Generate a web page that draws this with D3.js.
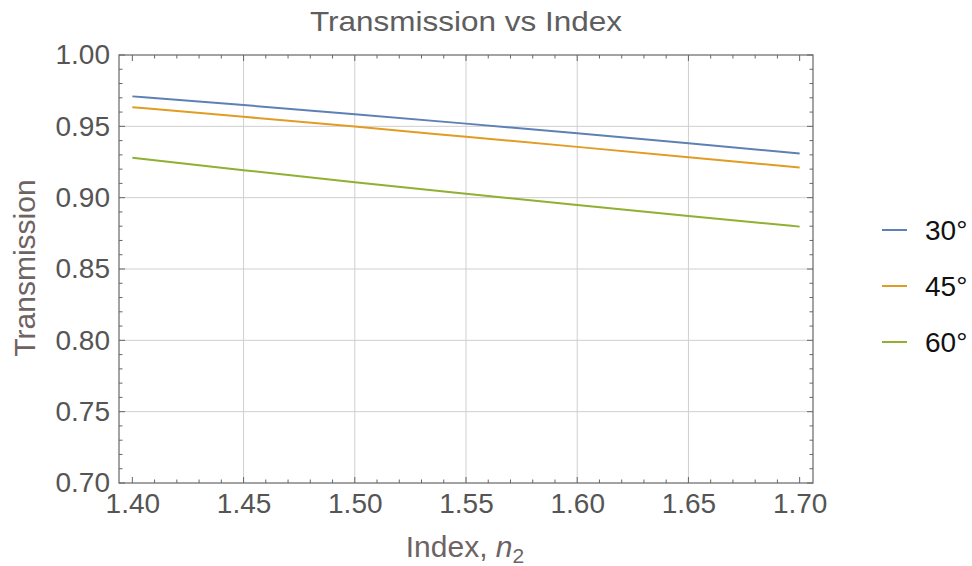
<!DOCTYPE html>
<html>
<head>
<meta charset="utf-8">
<script src="https://cdn.jsdelivr.net/npm/d3@7"></script>
<style>
  html, body { margin: 0; padding: 0; background: #fff; }
  svg { display: block; font-family: "Liberation Sans", Arial, sans-serif; }
</style>
</head>
<body>
<svg id="chart" width="972" height="566"></svg>
<script>
// Refractive index of the second medium
const indexValues = [1.40, 1.45, 1.50, 1.55, 1.60, 1.65, 1.70];

// Transmission at each incidence angle
const trans30 = [0.9710, 0.9649, 0.9585, 0.9519, 0.9451, 0.9381, 0.9310];
const trans45 = [0.9634, 0.9567, 0.9498, 0.9427, 0.9356, 0.9284, 0.9211];
const trans60 = [0.9280, 0.9193, 0.9108, 0.9027, 0.8948, 0.8871, 0.8797];

const seriesNames = ["30°", "45°", "60°"];
const seriesColors = ["#5e81b5", "#e19c24", "#8fb032"];

const xTicks = [1.40, 1.45, 1.50, 1.55, 1.60, 1.65, 1.70];
const yTicks = [0.70, 0.75, 0.80, 0.85, 0.90, 0.95, 1.00];

const series = [trans30, trans45, trans60].map((vals, i) => ({
  name: seriesNames[i],
  color: seriesColors[i],
  points: vals.map((v, j) => ({ x: indexValues[j], y: v }))
}));

const svg = d3.select("#chart");
const plot = { left: 119, right: 813, top: 55, bottom: 483 };

const x = d3.scaleLinear().domain([1.394, 1.706]).range([plot.left, plot.right]);
const y = d3.scaleLinear().domain([0.70, 1.00]).range([plot.bottom, plot.top]);

const frameColor = "#666666";
const tickTextColor = "#555555";

// Grid lines at the interior major ticks
const g = svg.append("g");
g.selectAll(".vgrid").data(xTicks.slice(1, -1)).join("line")
  .attr("x1", d => x(d)).attr("x2", d => x(d))
  .attr("y1", plot.top).attr("y2", plot.bottom)
  .attr("stroke", "#cfcfcf").attr("stroke-width", 1);
g.selectAll(".hgrid").data(yTicks.slice(1, -1)).join("line")
  .attr("x1", plot.left).attr("x2", plot.right)
  .attr("y1", d => y(d)).attr("y2", d => y(d))
  .attr("stroke", "#cfcfcf").attr("stroke-width", 1);

// Inward-facing major and minor ticks on all four frame sides
const xMinor = d3.range(140, 171).map(v => v / 100);
const yMinor = d3.range(70, 101).map(v => v / 100);
const isMajor = v => Math.abs(Math.round(v * 20) - v * 20) < 1e-6;

function drawTicks(vals, scale, orient) {
  vals.forEach(v => {
    const len = isMajor(v) ? 6 : 3.5;
    const p = scale(v);
    if (orient === "x") {
      g.append("line").attr("x1", p).attr("x2", p)
        .attr("y1", plot.bottom).attr("y2", plot.bottom - len)
        .attr("stroke", frameColor);
      g.append("line").attr("x1", p).attr("x2", p)
        .attr("y1", plot.top).attr("y2", plot.top + len)
        .attr("stroke", frameColor);
    } else {
      g.append("line").attr("y1", p).attr("y2", p)
        .attr("x1", plot.left).attr("x2", plot.left + len)
        .attr("stroke", frameColor);
      g.append("line").attr("y1", p).attr("y2", p)
        .attr("x1", plot.right).attr("x2", plot.right - len)
        .attr("stroke", frameColor);
    }
  });
}
drawTicks(xMinor, x, "x");
drawTicks(yMinor, y, "y");

// Tick labels via d3 axes (lines hidden)
const xAxis = svg.append("g")
  .attr("transform", `translate(0,${plot.bottom})`)
  .call(d3.axisBottom(x).tickValues(xTicks).tickSize(0).tickPadding(10).tickFormat(d3.format(".2f")));
xAxis.select(".domain").remove();
xAxis.selectAll("text").attr("font-size", 28).attr("fill", tickTextColor)
  .attr("font-family", "Liberation Sans, Arial, sans-serif");

const yAxis = svg.append("g")
  .attr("transform", `translate(${plot.left},0)`)
  .call(d3.axisLeft(y).tickValues(yTicks).tickSize(0).tickPadding(9).tickFormat(d3.format(".2f")));
yAxis.select(".domain").remove();
yAxis.selectAll("text").attr("font-size", 28).attr("fill", tickTextColor)
  .attr("font-family", "Liberation Sans, Arial, sans-serif");

// Frame
svg.append("rect")
  .attr("x", plot.left).attr("y", plot.top)
  .attr("width", plot.right - plot.left).attr("height", plot.bottom - plot.top)
  .attr("fill", "none").attr("stroke", frameColor).attr("stroke-width", 1.2);

// Curves
const line = d3.line().x(d => x(d.x)).y(d => y(d.y)).curve(d3.curveMonotoneX);
svg.append("g").selectAll("path").data(series).join("path")
  .attr("d", d => line(d.points))
  .attr("fill", "none")
  .attr("stroke", d => d.color)
  .attr("stroke-width", 2);

// Title
svg.append("text")
  .attr("x", 466).attr("y", 31)
  .attr("text-anchor", "middle")
  .attr("font-size", 28).attr("fill", "#5e5e5e")
  .attr("textLength", 312).attr("lengthAdjust", "spacingAndGlyphs")
  .text("Transmission vs Index");

// Axis labels
svg.append("text")
  .attr("transform", "translate(35,268) rotate(-90)")
  .attr("text-anchor", "middle")
  .attr("font-size", 30).attr("fill", "#6e6363")
  .text("Transmission");

const xl = svg.append("text")
  .attr("x", 465).attr("y", 557)
  .attr("text-anchor", "middle")
  .attr("font-size", 30).attr("fill", "#6e6363");
xl.append("tspan").text("Index, ");
xl.append("tspan").attr("font-style", "italic").text("n");
xl.append("tspan").attr("font-size", 21).attr("dy", 6).text("2");

// Legend
const legend = svg.append("g").selectAll("g").data(series).join("g")
  .attr("transform", (d, i) => `translate(882,${230 + i * 56})`);
legend.append("line")
  .attr("x1", 0).attr("x2", 25).attr("y1", 0).attr("y2", 0)
  .attr("stroke", d => d.color).attr("stroke-width", 2);
legend.append("text")
  .attr("x", 43).attr("y", 10)
  .attr("font-size", 28).attr("fill", "#111")
  .text(d => d.name);
</script>
</body>
</html>
